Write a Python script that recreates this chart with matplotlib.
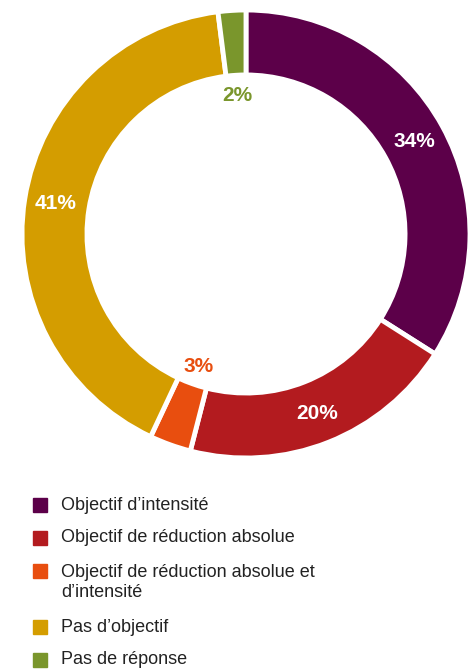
import numpy as np
import matplotlib.pyplot as plt

labels = ["Objectif d\u2019intensit\u00e9",
          "Objectif de r\u00e9duction absolue",
          "Objectif de r\u00e9duction absolue et\nd\u2019intensit\u00e9",
          "Pas d\u2019objectif",
          "Pas de r\u00e9ponse"]
values = [34, 20, 3, 41, 2]
colors = ["#5C0049", "#B31B1F", "#E84E0F", "#D49D00", "#7A962C"]
pct_colors = ["white", "white", "#E84E0F", "white", "#7A962C"]
pct_radius = [0.86, 0.86, 0.63, 0.86, 0.62]

plt.rcParams['font.family'] = ['Liberation Sans', 'DejaVu Sans']

W, H = 477, 671
fig = plt.figure(figsize=(W / 100, H / 100), dpi=100)

# donut
cx, cy, r = 246, 234, 224
ax = fig.add_axes([(cx - r) / W, (H - cy - r) / H, 2 * r / W, 2 * r / H])
wedges, _ = ax.pie(values, colors=colors, startangle=90, counterclock=False,
                   radius=1, wedgeprops=dict(width=0.29, edgecolor="white", linewidth=3.5))
ax.set_xlim(-1, 1)
ax.set_ylim(-1, 1)
ax.set_aspect("equal")
ax.axis("off")

for w, v, c, rr in zip(wedges, values, pct_colors, pct_radius):
    ang = np.deg2rad((w.theta1 + w.theta2) / 2)
    ax.text(rr * np.cos(ang), rr * np.sin(ang), f"{v}%", color=c,
            fontsize=15, fontweight="bold", ha="center", va="center")

# legend
rows_y = [505, 538, 582.5, 627, 660]
box_y = [505, 538, 571, 627, 660]
for lab, col, y, by in zip(labels, colors, rows_y, box_y):
    fig.patches.append(plt.Rectangle((33 / W, 1 - (by + 7) / H), 14 / W, 14 / H,
                                     transform=fig.transFigure, color=col))
    fig.text(61 / W, 1 - y / H, lab, fontsize=13, color="#222222",
             ha="left", va="center", linespacing=1.3)

fig.savefig("out.png", dpi=100, facecolor="white")
